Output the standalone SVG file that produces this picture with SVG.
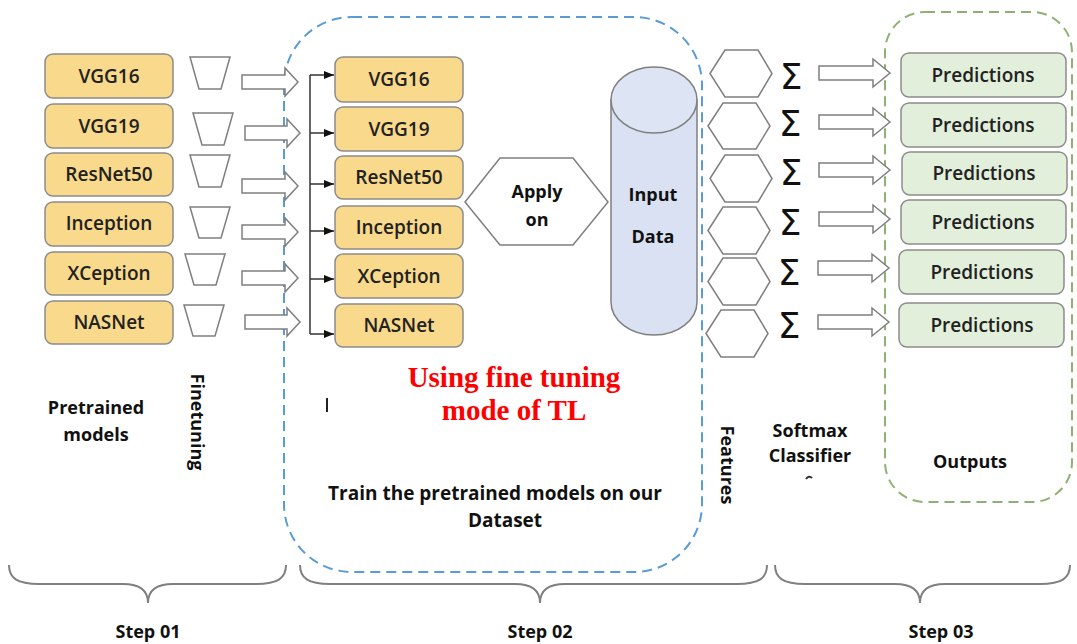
<svg xmlns="http://www.w3.org/2000/svg" width="1077" height="644" viewBox="0 0 1077 644">
<defs>
<style>
.lbl{font-family:"Open Sans","Liberation Sans",sans-serif;font-weight:600;font-size:19px;fill:#222;text-anchor:middle}
.bold{font-family:"Open Sans","Liberation Sans",sans-serif;font-weight:700;font-size:18px;fill:#111;text-anchor:middle}
.big{font-size:19px}
.red{font-family:"Liberation Serif","Times New Roman",serif;font-weight:700;font-size:29px;fill:#ff0000;text-anchor:middle}
.ob{fill:#f9d98c;stroke:#8c8c8c;stroke-width:1.5}
.gb{fill:#e2efda;stroke:#8c8c8c;stroke-width:1.5}
.sh{fill:#fff;stroke:#7f7f7f;stroke-width:1.5}
.conn{fill:none;stroke:#333;stroke-width:1.5}
.brace{fill:none;stroke:#808080;stroke-width:2}
.sig{font-family:"DejaVu Sans",sans-serif;font-size:36px;fill:#111;text-anchor:middle}
</style>
<marker id="ah" markerWidth="10" markerHeight="8" refX="10" refY="4" orient="auto" markerUnits="userSpaceOnUse">
<path d="M0,0 L10,4 L0,8 Z" fill="#111"/>
</marker>
</defs>
<rect width="1077" height="644" fill="#fff"/>

<!-- dashed containers -->
<g id="step2-area">
<rect x="284" y="17" width="418" height="555" rx="68" ry="68" fill="none" stroke="#5b9bd5" stroke-width="2" stroke-dasharray="10,6"/>
</g>
<g id="step3-area">
<rect x="885" y="12" width="187" height="490" rx="40" ry="40" fill="none" stroke="#8fb073" stroke-width="2" stroke-dasharray="10,6"/>
</g>

<!-- pretrained models -->
<g id="pre-vgg16"><rect class="ob" x="45" y="54" width="128" height="44" rx="8"/><text class="lbl" x="109" y="83">VGG16</text></g>
<g id="pre-vgg19"><rect class="ob" x="45" y="104" width="128" height="44" rx="8"/><text class="lbl" x="109" y="133">VGG19</text></g>
<g id="pre-resnet50"><rect class="ob" x="45" y="153" width="128" height="43" rx="8"/><text class="lbl" x="109" y="181">ResNet50</text></g>
<g id="pre-inception"><rect class="ob" x="45" y="202" width="128" height="44" rx="8"/><text class="lbl" x="109" y="230">Inception</text></g>
<g id="pre-xception"><rect class="ob" x="45" y="252" width="128" height="43" rx="8"/><text class="lbl" x="109" y="280">XCeption</text></g>
<g id="pre-nasnet"><rect class="ob" x="45" y="301" width="128" height="43" rx="8"/><text class="lbl" x="109" y="329">NASNet</text></g>

<!-- finetuning trapezoids -->
<g id="ft1"><polygon class="sh" points="190,57 230,57 221,89 199,89"/></g>
<g id="ft2"><polygon class="sh" points="193,113 233,113 224,145 202,145"/></g>
<g id="ft3"><polygon class="sh" points="190,155 230,155 221,187 199,187"/></g>
<g id="ft4"><polygon class="sh" points="190,207 230,207 221,238 199,238"/></g>
<g id="ft5"><polygon class="sh" points="185,254 225,254 216,285 194,285"/></g>
<g id="ft6"><polygon class="sh" points="184,305 224,305 215,336 193,336"/></g>

<!-- fine-tuned models -->
<g id="ft-vgg16"><rect class="ob" x="335" y="57" width="128" height="45" rx="8"/><text class="lbl" x="399" y="86">VGG16</text></g>
<g id="ft-vgg19"><rect class="ob" x="335" y="107" width="128" height="44" rx="8"/><text class="lbl" x="399" y="136">VGG19</text></g>
<g id="ft-resnet50"><rect class="ob" x="335" y="156" width="128" height="43" rx="8"/><text class="lbl" x="399" y="184">ResNet50</text></g>
<g id="ft-inception"><rect class="ob" x="335" y="206" width="128" height="43" rx="8"/><text class="lbl" x="399" y="234">Inception</text></g>
<g id="ft-xception"><rect class="ob" x="335" y="254" width="128" height="44" rx="8"/><text class="lbl" x="399" y="283">XCeption</text></g>
<g id="ft-nasnet"><rect class="ob" x="335" y="304" width="128" height="43" rx="8"/><text class="lbl" x="399" y="332">NASNet</text></g>

<!-- apply on -->
<g id="apply-on">
<polygon class="sh" points="465,202 500,158 573,158 608,202 573,245 500,245"/>
<text class="bold" x="537" y="198">Apply</text>
<text class="bold" x="537" y="226">on</text>
</g>

<!-- input data -->
<g id="input-data">
<path d="M611,100 L611,302 A43,33 0 0 0 697,302 L697,100 Z" fill="#d9e1f2" stroke="#7f7f7f" stroke-width="1.5"/>
<ellipse cx="654" cy="100" rx="43" ry="33" fill="#dde5f4" stroke="#7f7f7f" stroke-width="1.5"/>
<text class="bold" x="653" y="201">Input</text>
<text class="bold" x="653" y="243">Data</text>
</g>

<!-- features hexagons -->
<g id="feat1"><polygon class="sh" points="710,73.5 725,50 758,50 772,73.5 758,97 725,97"/></g>
<g id="feat2"><polygon class="sh" points="708,126 723,103 756,103 770,126 756,149 723,149"/></g>
<g id="feat3"><polygon class="sh" points="710,178.5 725,155 758,155 772,178.5 758,202 725,202"/></g>
<g id="feat4"><polygon class="sh" points="708,230.5 723,207 756,207 770,230.5 756,254 723,254"/></g>
<g id="feat5"><polygon class="sh" points="708,281.5 723,258 756,258 770,281.5 756,305 723,305"/></g>
<g id="feat6"><polygon class="sh" points="706,333.5 721,310 754,310 768,333.5 754,357 721,357"/></g>

<!-- softmax sigmas -->
<g id="sigmas">
<text class="sig" x="791" y="89">Σ</text>
<text class="sig" x="790" y="136">Σ</text>
<text class="sig" x="791" y="185">Σ</text>
<text class="sig" x="790" y="235">Σ</text>
<text class="sig" x="789" y="285">Σ</text>
<text class="sig" x="789" y="338">Σ</text>
</g>

<!-- predictions -->
<g id="pred1"><rect class="gb" x="901" y="53" width="165" height="44" rx="8"/><text class="lbl" x="983" y="82">Predictions</text></g>
<g id="pred2"><rect class="gb" x="901" y="103" width="165" height="44" rx="8"/><text class="lbl" x="983" y="132">Predictions</text></g>
<g id="pred3"><rect class="gb" x="902" y="152" width="165" height="43" rx="8"/><text class="lbl" x="984" y="180">Predictions</text></g>
<g id="pred4"><rect class="gb" x="901" y="200" width="165" height="44" rx="8"/><text class="lbl" x="983" y="229">Predictions</text></g>
<g id="pred5"><rect class="gb" x="899" y="250" width="165" height="44" rx="8"/><text class="lbl" x="982" y="279">Predictions</text></g>
<g id="pred6"><rect class="gb" x="899" y="303" width="165" height="44" rx="8"/><text class="lbl" x="982" y="332">Predictions</text></g>

<!-- connectors -->
<g id="connectors">
<path class="sh" d="M242,75 L285,75 L285,68 L298,82 L285,96 L285,89 L242,89 Z"/>
<path class="sh" d="M245,126 L287,126 L287,119 L300,133 L287,147 L287,140 L245,140 Z"/>
<path class="sh" d="M242,179 L285,179 L285,172 L298,186 L285,200 L285,193 L242,193 Z"/>
<path class="sh" d="M242,225 L285,225 L285,218 L298,232 L285,246 L285,239 L242,239 Z"/>
<path class="sh" d="M242,271 L285,271 L285,264 L298,278 L285,292 L285,285 L242,285 Z"/>
<path class="sh" d="M245,315 L287,315 L287,308 L300,322 L287,336 L287,329 L245,329 Z"/>

<path class="conn" d="M310,75 L310,334"/>
<path class="conn" d="M310,75 L334,75" marker-end="url(#ah)"/>
<path class="conn" d="M310,133 L334,133" marker-end="url(#ah)"/>
<path class="conn" d="M310,184 L334,184" marker-end="url(#ah)"/>
<path class="conn" d="M310,231 L334,231" marker-end="url(#ah)"/>
<path class="conn" d="M310,279 L334,279" marker-end="url(#ah)"/>
<path class="conn" d="M310,334 L334,334" marker-end="url(#ah)"/>

<path class="sh" d="M819,66 L873,66 L873,59 L890,73 L873,87 L873,80 L819,80 Z"/>
<path class="sh" d="M819,115 L873,115 L873,108 L890,122 L873,136 L873,129 L819,129 Z"/>
<path class="sh" d="M819,163 L873,163 L873,156 L890,170 L873,184 L873,177 L819,177 Z"/>
<path class="sh" d="M819,212 L873,212 L873,205 L890,219 L873,233 L873,226 L819,226 Z"/>
<path class="sh" d="M818,261 L872,261 L872,254 L889,268 L872,282 L872,275 L818,275 Z"/>
<path class="sh" d="M818,315 L872,315 L872,308 L889,322 L872,336 L872,329 L818,329 Z"/>
</g>

<!-- labels -->
<g id="labels">
<text class="bold" x="96" y="414">Pretrained</text>
<text class="bold" x="96" y="441">models</text>
<text class="bold" transform="translate(197,422) rotate(90)" y="6">Finetuning</text>
<line x1="327" y1="398" x2="327" y2="412" stroke="#222" stroke-width="2"/>
<text class="red" x="514" y="387">Using fine tuning</text>
<text class="red" x="514" y="420">mode of TL</text>
<text class="bold big" x="495" y="500">Train the pretrained models on our</text>
<text class="bold big" x="505" y="527">Dataset</text>
<text class="bold" transform="translate(727,465) rotate(90)" y="6">Features</text>
<text class="bold" x="810" y="437">Softmax</text>
<text class="bold" x="810" y="462">Classifier</text>
<path d="M806,479 Q809,475 812,478" fill="none" stroke="#333" stroke-width="2"/>
<text class="bold" x="970" y="468">Outputs</text>
<text class="bold" x="148" y="638">Step 01</text>
<text class="bold" x="540" y="638">Step 02</text>
<text class="bold" x="941" y="638">Step 03</text>
</g>

<!-- braces -->
<g id="braces">
<path class="brace" d="M9,565 C9,578 17,584 39,584 L123,584 C140,584 148,590 148,603 C148,590 156,584 173,584 L256,584 C278,584 286,578 286,565"/>
<path class="brace" d="M300,565 C300,578 308,584 330,584 L515,584 C532,584 540,590 540,603 C540,590 548,584 565,584 L737,584 C759,584 767,578 767,565"/>
<path class="brace" d="M775,565 C775,578 783,584 805,584 L895,584 C912,584 920,590 920,603 C920,590 928,584 945,584 L1040,584 C1062,584 1070,578 1070,565"/>
</g>
</svg>
